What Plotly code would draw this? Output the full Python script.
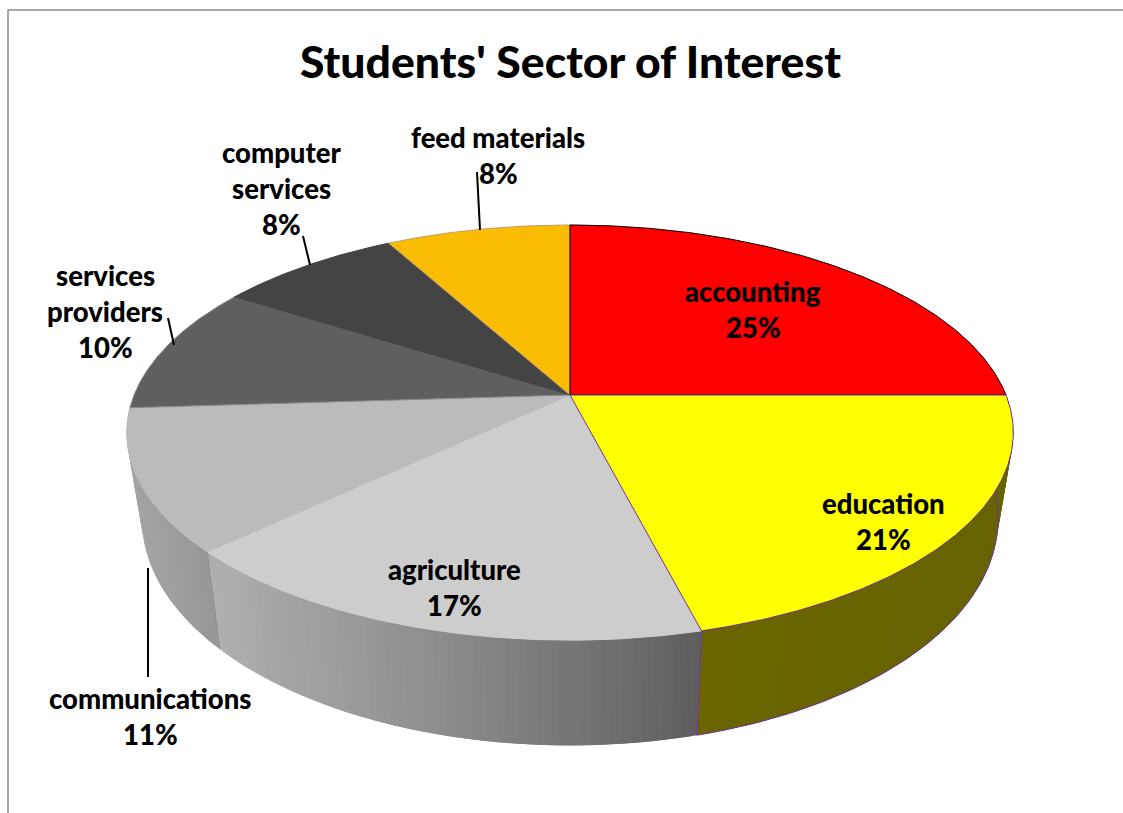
import numpy as np
import plotly.graph_objects as go

# Chart content
categories = ["accounting", "education", "agriculture", "communications",
              "services providers", "computer services", "feed materials"]
shares = [25, 21, 17, 11, 10, 8, 8]
title_text = "Students' Sector of Interest"
label_lines = [
    (["accounting", "25%"], 753, 291),
    (["education", "21%"], 883, 503),
    (["agriculture", "17%"], 454, 569),
    (["communications", "11%"], 150, 698),
    (["services", "providers", "10%"], 105, 275),
    (["computer", "services", "8%"], 281, 152),
    (["feed materials", "8%"], 498, 137),
]
leaders = [
    ([148, 148], [568, 677]),
    ([168, 174], [318, 345]),
    ([303, 310], [236, 265]),
    ([477, 480], [172, 230]),
]

# Slice styling
top_colors = ["#FF0000", "#FFFF00", "#CDCDCD", "#BBBBBB", "#5F5F5F", "#444444", "#FBBC04"]
edge_colors = ["#000000", "#7030A0", "#CDCDCD", "#BBBBBB", "#8A8A8A", "#444444", "#B9A070"]
wall_stops = {
    1: ([697, 1012], [(106, 101, 0), (102, 99, 0)]),
    2: ([205, 450, 697], [(176, 176, 176), (140, 140, 140), (94, 94, 94)]),
    3: ([130, 205], [(164, 164, 164), (152, 152, 152)]),
}
wall_edge = {1: "#7030A0", 2: "#8A8A8A", 3: "#A8A8A8"}

# Perspective projection of the disc
CX = 570.0
TILT = 0.181
TOP_RIM = dict(a=436.0, b=200.8, y0=395.0)
BOTTOM_RIM = dict(a=421.0, b=219.0, y0=478.0)


def project(theta, rim):
    u, v = np.sin(theta), np.cos(theta)
    d = 1 + TILT * v
    return CX + rim["a"] * u / d, rim["y0"] - rim["b"] * v / d


def wall_color(x, stops):
    xs, cols = stops
    rgb = [np.interp(x, xs, [c[i] for c in cols]) for i in range(3)]
    return "rgb({:.0f},{:.0f},{:.0f})".format(*rgb)


fig = go.Figure()

fractions = np.cumsum([0] + shares) / sum(shares)
angles = 2 * np.pi * fractions


def add_poly(xs, ys, fill, line, width):
    fig.add_trace(go.Scatter(
        x=xs, y=ys, mode="lines", fill="toself", fillcolor=fill,
        line=dict(color=line, width=width), hoverinfo="skip", showlegend=False,
    ))


# Outer wall, drawn back to front as overlapping bands so the shading follows x
strips = []
for i, stops in wall_stops.items():
    lo, hi = angles[i], angles[i + 1]
    n = max(6, int((hi - lo) / 0.02))
    edges = np.linspace(lo, hi, n + 1)
    for t1, t2 in zip(edges[:-1], edges[1:]):
        strips.append((t1, t2, max(lo, t1 - 0.01), min(hi, t2 + 0.01), stops))
strips.sort(key=lambda s: -np.cos((s[0] + s[1]) / 2))
for t1, t2, o1, o2, stops in strips:
    tt = np.array([o1, o2])
    xa, ya = project(tt, TOP_RIM)
    xb, yb = project(tt, BOTTOM_RIM)
    col = wall_color(project((t1 + t2) / 2, TOP_RIM)[0], stops)
    add_poly([xa[0], xa[1], xb[1], xb[0], xa[0]], [ya[0], ya[1], yb[1], yb[0], ya[0]], col, col, 0)

# Vertical seams and the lower outline of the wall
for i, col in wall_edge.items():
    t = np.linspace(angles[i], angles[i + 1], 120)
    if i == 1:
        bx, by = project(t, BOTTOM_RIM)
        fig.add_trace(go.Scatter(x=bx, y=by, mode="lines", line=dict(color=col, width=1),
                                 hoverinfo="skip", showlegend=False))
    xa, ya = project(angles[i + 1], TOP_RIM)
    xb, yb = project(angles[i + 1], BOTTOM_RIM)
    fig.add_trace(go.Scatter(x=[xa, xb], y=[ya, yb], mode="lines", line=dict(color=col, width=1),
                             hoverinfo="skip", showlegend=False))

# Top faces; the outlined slices go last so their edges stay visible
order = [2, 3, 4, 5, 6, 0, 1]
for i in order:
    t = np.linspace(angles[i], angles[i + 1], 160)
    rx, ry = project(t, TOP_RIM)
    xs = np.r_[CX, rx, CX]
    ys = np.r_[TOP_RIM["y0"], ry, TOP_RIM["y0"]]
    add_poly(xs, ys, top_colors[i], edge_colors[i], 1)

# Leader lines
for lx, ly in leaders:
    fig.add_trace(go.Scatter(x=lx, y=ly, mode="lines", line=dict(color="#000000", width=2),
                             hoverinfo="skip", showlegend=False))

# Frame of the chart area
fig.add_trace(go.Scatter(x=[1123, 8, 8], y=[10, 10, 813], mode="lines",
                         line=dict(color="#8C8C8C", width=1.5), hoverinfo="skip", showlegend=False))

FONT = "Lato, Carlito, Calibri, sans-serif"
annotations = [dict(x=570, y=60, text=title_text, showarrow=False,
                    font=dict(family=FONT, size=44.5, color="#000000", weight=900),
                    xanchor="center", yanchor="middle")]
LINE_STEP = 36
for lines, lx, ly in label_lines:
    for k, line in enumerate(lines):
        annotations.append(dict(x=lx, y=ly + k * LINE_STEP, text=line, showarrow=False,
                                font=dict(family=FONT, size=27.5, color="#000000", weight=900),
                                xanchor="center", yanchor="middle"))

fig.update_layout(
    width=1123, height=813, margin=dict(l=0, r=0, t=0, b=0),
    paper_bgcolor="#FFFFFF", plot_bgcolor="#FFFFFF", showlegend=False,
    xaxis=dict(range=[0, 1123], visible=False, fixedrange=True),
    yaxis=dict(range=[813, 0], visible=False, fixedrange=True),
    annotations=annotations,
)
fig.write_html("out.html", config={"displayModeBar": False})
